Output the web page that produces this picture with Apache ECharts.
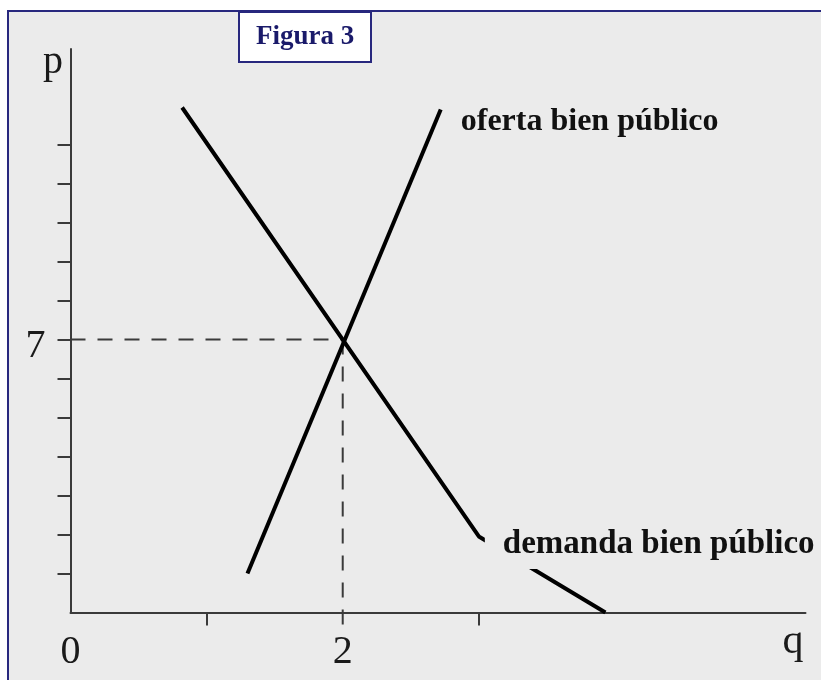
<!DOCTYPE html>
<html>
<head>
<meta charset="utf-8">
<script src="https://cdn.jsdelivr.net/npm/echarts@6/dist/echarts.min.js"></script>
<style>
  html, body { margin: 0; padding: 0; background: #ffffff; }
  #chart { width: 821px; height: 680px; }
</style>
</head>
<body>
<div id="chart"></div>
<script>
// ---- data ----
const titleText = 'Figura 3';
const xAxisName = 'q';
const yAxisName = 'p';
const supplyName = 'oferta bien público';
const demandName = 'demanda bien público';
const supplyPoints = [[1.3, 1.0], [2.72, 12.9]];
const demandPoints = [[0.82, 12.95], [3.0, 1.95], [3.93, 0]];
const equilibrium = [2, 7];
const xTickValues = [1, 3];
const yTickValues = [1, 2, 3, 4, 5, 6, 7, 8, 9, 10, 11, 12];
const xLabelValues = [0, 2];
const yLabelValues = [7];
const xMax = 5.4;
const yMax = 14.45;
const guideBottom = -0.33;

const BG = '#ebebeb';
const NAVY = '#28287e';
const AXIS = '#3a3a3a';
const SERIF = '"Liberation Serif", "DejaVu Serif", serif';

const chart = echarts.init(document.getElementById('chart'), null, { renderer: 'canvas' });

const hGuide = [[0, equilibrium[1]], equilibrium.slice()];
const vGuide = [equilibrium.slice(), [equilibrium[0], guideBottom]];

const supplyData = supplyPoints.map((p, i) => {
  if (i === supplyPoints.length - 1) {
    return {
      value: p,
      label: {
        show: true, position: 'right', distance: 20, offset: [0, 12],
        formatter: supplyName,
        fontFamily: SERIF, fontWeight: 'bold', fontSize: 32, lineHeight: 33, color: '#111'
      }
    };
  }
  return { value: p };
});

const demandData = demandPoints.map((p, i) => {
  if (i === 1) {
    return {
      value: p,
      label: {
        show: true, position: 'right', distance: 6, offset: [0, 8],
        formatter: demandName,
        fontFamily: SERIF, fontWeight: 'bold', fontSize: 33, lineHeight: 33, color: '#111',
        backgroundColor: BG, padding: [2, 0, 14, 18]
      }
    };
  }
  return { value: p };
});

const option = {
  animation: false,
  backgroundColor: '#ffffff',
  graphic: [{
    type: 'rect', z: -10, silent: true,
    shape: { x: 8, y: 11, width: 900, height: 800 },
    style: { fill: BG, stroke: NAVY, lineWidth: 2 }
  }],
  title: {
    text: titleText,
    left: 239, top: 12,
    backgroundColor: '#ffffff',
    borderColor: NAVY, borderWidth: 2,
    padding: [10, 17, 10, 17],
    textStyle: { fontFamily: SERIF, fontWeight: 'bold', fontSize: 27, lineHeight: 30, color: '#1a1a6a' }
  },
  grid: { left: 70.5, top: 49, width: 735, height: 563.5, containLabel: false },
  xAxis: {
    type: 'value', min: 0, max: xMax,
    name: xAxisName, nameLocation: 'end', nameGap: -2,
    nameTextStyle: { fontFamily: SERIF, fontSize: 42, color: '#1a1a1a', align: 'right', verticalAlign: 'top', padding: [8, 0, 0, 0] },
    axisLine: { show: true, onZero: false, lineStyle: { color: AXIS, width: 2 } },
    axisTick: { show: true, customValues: xTickValues, length: 13, inside: false, lineStyle: { color: AXIS, width: 2 } },
    axisLabel: { show: true, customValues: xLabelValues, margin: 20, fontFamily: SERIF, fontSize: 40, color: '#1a1a1a', showMinLabel: true },
    splitLine: { show: false }
  },
  yAxis: {
    type: 'value', min: 0, max: yMax,
    name: yAxisName, nameLocation: 'end', nameGap: 7,
    nameTextStyle: { fontFamily: SERIF, fontSize: 40, color: '#1a1a1a', align: 'right', verticalAlign: 'top', padding: [0, 7.5, 0, 0] },
    axisLine: { show: true, onZero: false, lineStyle: { color: AXIS, width: 2 } },
    axisTick: { show: true, customValues: yTickValues, length: 13, inside: false, lineStyle: { color: AXIS, width: 2 } },
    axisLabel: { show: true, customValues: yLabelValues, margin: 25, fontFamily: SERIF, fontSize: 40, color: '#1a1a1a', verticalAlign: 'top', lineHeight: 14 },
    splitLine: { show: false }
  },
  series: [
    {
      name: 'guiaH', type: 'line', data: hGuide, z: 3, clip: false,
      symbol: 'none', silent: true,
      lineStyle: { color: AXIS, width: 2, type: [15, 12] }
    },
    {
      name: 'guiaV', type: 'line', data: vGuide, z: 3, clip: false,
      symbol: 'none', silent: true,
      lineStyle: { color: AXIS, width: 2, type: [15, 12] }
    },
    {
      name: supplyName, type: 'line', data: supplyData, z: 4,
      symbol: 'circle', symbolSize: 0, showSymbol: true, silent: true,
      lineStyle: { color: '#000', width: 4 }, itemStyle: { color: '#000' }
    },
    {
      name: demandName, type: 'line', data: demandData, z: 5,
      symbol: 'circle', symbolSize: 0, showSymbol: true, silent: true,
      lineStyle: { color: '#000', width: 4, join: 'round' }, itemStyle: { color: '#000' }
    }
  ]
};

chart.setOption(option);
</script>
</body>
</html>
